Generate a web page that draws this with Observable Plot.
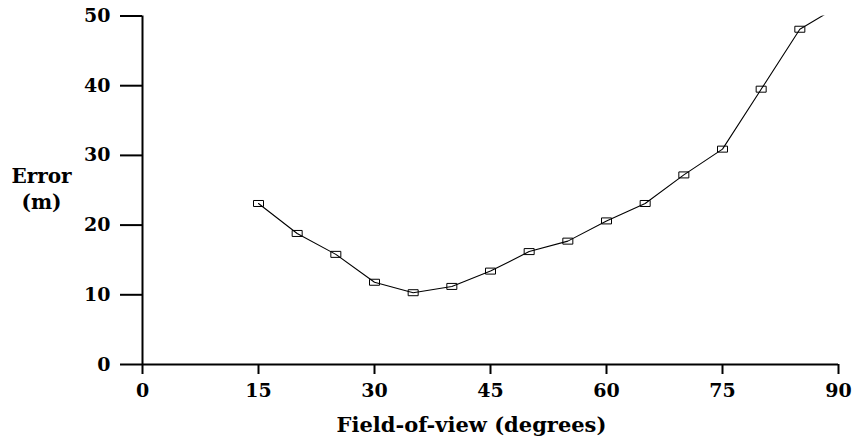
<!DOCTYPE html>
<html>
<head>
<meta charset="utf-8">
<script src="https://cdn.jsdelivr.net/npm/d3@7"></script>
<script src="https://cdn.jsdelivr.net/npm/@observablehq/plot@0.6"></script>
<style>
  html, body { margin: 0; padding: 0; background: #fff; }
  #chart svg { display: block; }
</style>
</head>
<body>
<div id="chart"></div>
<script>
// Field-of-view (degrees)
const fov = [15, 20, 25, 30, 35, 40, 45, 50, 55, 60, 65, 70, 75, 80, 85];
// Error (m)
const errorM = [23.1, 18.8, 15.8, 11.8, 10.3, 11.2, 13.4, 16.2, 17.7, 20.6, 23.1, 27.2, 30.9, 39.5, 48.1];
// continuation of the curve beyond the top of the plot (clipped)
const fovExtra = [90];
const errorExtra = [51.4];

const xTicks = [0, 15, 30, 45, 60, 75, 90];
const yTicks = [0, 10, 20, 30, 40, 50];
const xLabel = "Field-of-view (degrees)";
const yLabel = "Error\n(m)";

const points = fov.map((x, i) => ({x, y: errorM[i]}));
const linePts = points.concat(fovExtra.map((x, i) => ({x, y: errorExtra[i]})));

const rectSymbol = {
  draw(context, size) {
    context.rect(-5, -3, 10, 6);
  }
};

const font = "'DejaVu Serif', serif";

const chart = Plot.plot({
  width: 854,
  height: 438,
  marginLeft: 142,
  marginRight: 16,
  marginTop: 15.5,
  marginBottom: 74,
  style: {fontFamily: font, fontWeight: "bold", fontSize: "19px", color: "#000", background: "#fff"},
  x: {domain: [0, 90], ticks: xTicks, label: null},
  y: {domain: [0, 50], ticks: yTicks, label: null},
  marks: [
    Plot.axisX({ticks: xTicks, tickSize: 10, tickPadding: 9, strokeWidth: 2, label: null, fontWeight: "bold", fontSize: 19}),
    Plot.axisY({ticks: yTicks, tickSize: 22, tickPadding: 10, strokeWidth: 2, label: null, fontWeight: "bold", fontSize: 19}),
    Plot.ruleX([0], {y1: 0, y2: 50, strokeWidth: 2}),
    Plot.ruleY([0], {x1: 0, x2: 90, strokeWidth: 2}),
    Plot.line(linePts, {x: "x", y: "y", stroke: "#000", strokeWidth: 1.1, clip: true}),
    Plot.dot(points, {x: "x", y: "y", symbol: rectSymbol, r: 4, stroke: "#000", strokeWidth: 1, fill: "none"}),
    Plot.text([xLabel], {frameAnchor: "bottom", lineAnchor: "middle", dx: -19, dy: 61, fontSize: 21, fontWeight: "bold"}),
    Plot.text([yLabel], {frameAnchor: "left", textAnchor: "middle", lineAnchor: "middle", dx: -101, dy: -3, fontSize: 20, fontWeight: "bold", lineHeight: 1.3})
  ]
});
document.getElementById("chart").appendChild(chart);
</script>
</body>
</html>
